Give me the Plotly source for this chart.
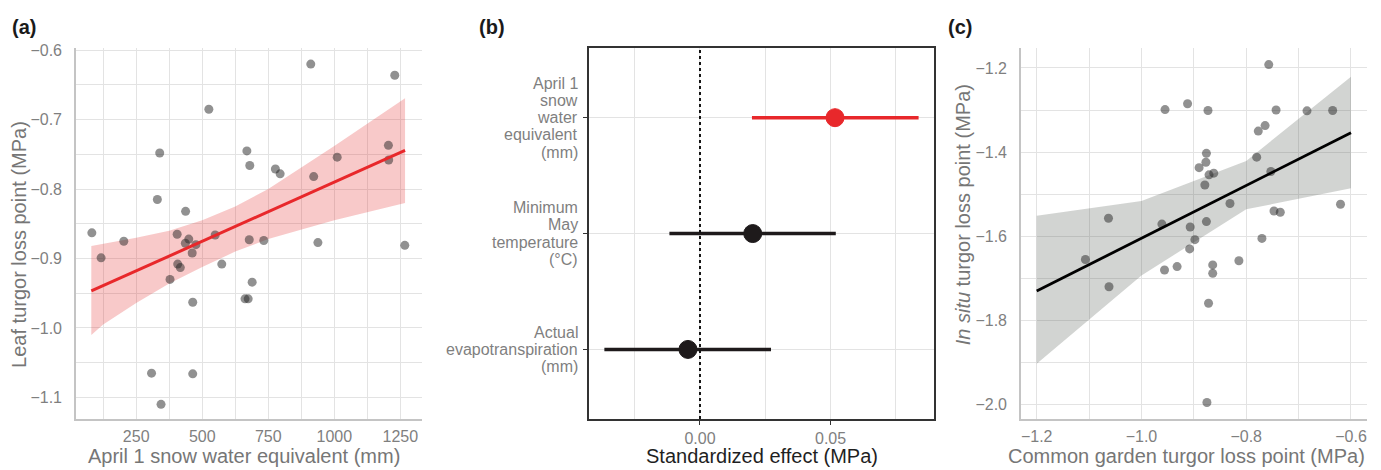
import plotly.graph_objects as go

# ---------------- Panel (a) data ----------------
swe_mm = [82, 117, 203, 308, 344, 339, 330, 405, 437, 525, 669, 680, 777, 795, 911, 922,
          1011, 1205, 1206, 1229, 1267, 938, 733, 678, 549, 574, 689, 662, 674, 464, 464,
          378, 407, 417, 449, 436, 462, 476]
leaf_tlp = [-0.863, -0.899, -0.875, -1.065, -1.110, -0.748, -0.815, -0.865, -0.832, -0.685,
            -0.745, -0.766, -0.771, -0.778, -0.620, -0.782, -0.754, -0.737, -0.758, -0.636,
            -0.881, -0.877, -0.874, -0.873, -0.866, -0.908, -0.934, -0.958, -0.958, -0.963,
            -1.066, -0.930, -0.908, -0.913, -0.872, -0.878, -0.892, -0.880]
fit_a_x = [80, 1268]
fit_a_y = [-0.9467, -0.7443]
band_a_x = [80, 125, 250, 375, 500, 625, 750, 1000, 1268]
band_a_hi = [-0.882, -0.879, -0.870, -0.860, -0.845, -0.825, -0.800, -0.738, -0.669]
band_a_lo = [-1.010, -0.995, -0.964, -0.936, -0.912, -0.890, -0.872, -0.845, -0.820]

# ---------------- Panel (b) data ----------------
predictors = ["swe", "tmin", "aet"]
predictor_lines = [["April 1", "snow", "water", "equivalent", "(mm)"],
                   ["Minimum", "May", "temperature", "(°C)"],
                   ["Actual", "evapotranspiration", "(mm)"]]
effect = [0.0517, 0.0202, -0.0046]
effect_lo = [0.0199, -0.0117, -0.0366]
effect_hi = [0.0837, 0.0520, 0.0272]
significant = [True, False, False]
ref_effect = 0.0

# ---------------- Panel (c) data ----------------
garden_tlp = [-0.757, -0.955, -0.912, -0.873, -0.743, -0.684, -0.635, -0.764, -0.777, -0.780,
              -0.876, -0.877, -0.890, -0.862, -0.871, -0.879, -0.753, -0.831, -0.620, -0.747,
              -0.735, -1.063, -0.961, -0.907, -0.876, -0.770, -0.898, -0.908, -1.107, -0.814,
              -1.062, -0.956, -0.932, -0.864, -0.864, -0.872, -0.875]
insitu_tlp = [-1.192, -1.299, -1.285, -1.301, -1.300, -1.302, -1.301, -1.337, -1.350, -1.412,
              -1.403, -1.424, -1.437, -1.450, -1.454, -1.478, -1.446, -1.522, -1.524, -1.540,
              -1.543, -1.557, -1.571, -1.578, -1.565, -1.605, -1.608, -1.630, -1.655, -1.658,
              -1.720, -1.680, -1.672, -1.668, -1.688, -1.759, -1.995]
fit_c_x = [-1.2, -1.0, -0.8, -0.6]
fit_c_y = [-1.730, -1.605, -1.480, -1.354]
band_c_hi = [-1.551, -1.516, -1.421, -1.221]
band_c_lo = [-1.903, -1.693, -1.536, -1.486]

# ---------------- styling ----------------
FONT = "Liberation Sans, Arial, Helvetica, sans-serif"
TICK_GRAY = "#7f7f7f"
TITLE_GRAY = "#767676"
GRID = "#e3e3e3"
AXLINE = "#c4c4c4"
RED = "#e8282b"
PT = "rgba(35,35,35,0.5)"
W, H = 1381, 470
LINE_H = 17.3  # px between stacked label lines in panel (b)

def px_x(p):
    return p / W

def px_y(p):
    return 1 - p / H

fig = go.Figure()

# Panel (a)
fig.add_trace(go.Scatter(x=band_a_x + band_a_x[::-1], y=band_a_hi + band_a_lo[::-1],
                         fill="toself", fillcolor="rgba(228,40,40,0.25)", line=dict(width=0),
                         mode="lines", hoverinfo="skip", showlegend=False, xaxis="x", yaxis="y"))
fig.add_trace(go.Scatter(x=swe_mm, y=leaf_tlp, mode="markers",
                         marker=dict(size=9, color=PT, line=dict(width=0)),
                         showlegend=False, xaxis="x", yaxis="y"))
fig.add_trace(go.Scatter(x=fit_a_x, y=fit_a_y, mode="lines", line=dict(color=RED, width=3),
                         showlegend=False, xaxis="x", yaxis="y"))

# Panel (b)
for i, p in enumerate(predictors):
    col = RED if significant[i] else "#1e1a1b"
    fig.add_trace(go.Scatter(x=[effect_lo[i], effect_hi[i]], y=[p, p], mode="lines",
                             line=dict(color=col, width=3.5), showlegend=False,
                             xaxis="x2", yaxis="y2"))
    fig.add_trace(go.Scatter(x=[effect[i]], y=[p], mode="markers",
                             marker=dict(size=18, color=col, line=dict(width=1, color=col)),
                             showlegend=False, xaxis="x2", yaxis="y2"))

fig.add_shape(type="line", xref="x2", yref="y2 domain", x0=ref_effect, x1=ref_effect,
              y0=0, y1=1, line=dict(color="#111111", width=2, dash="dot"), layer="above")

# Panel (c)
fig.add_trace(go.Scatter(x=fit_c_x + fit_c_x[::-1], y=band_c_hi + band_c_lo[::-1],
                         fill="toself", fillcolor="rgba(90,95,90,0.27)", line=dict(width=0),
                         mode="lines", hoverinfo="skip", showlegend=False, xaxis="x3", yaxis="y3"))
fig.add_trace(go.Scatter(x=garden_tlp, y=insitu_tlp, mode="markers",
                         marker=dict(size=9, color=PT, line=dict(width=0)),
                         showlegend=False, xaxis="x3", yaxis="y3"))
fig.add_trace(go.Scatter(x=fit_c_x, y=fit_c_y, mode="lines", line=dict(color="#000000", width=2.8),
                         showlegend=False, xaxis="x3", yaxis="y3"))

ydom = [px_y(418.3), px_y(42.7)]
tickfont = dict(family=FONT, size=16, color=TICK_GRAY)

def light_axis(**kw):
    d = dict(showline=True, linecolor=AXLINE, linewidth=1.6, mirror=False,
             showgrid=True, gridcolor=GRID, gridwidth=1.3, zeroline=False,
             ticks="", tickfont=tickfont, ticklabelstandoff=2)
    d.update(kw)
    return d

fig.update_layout(
    width=W, height=H, margin=dict(l=0, r=0, t=0, b=0),
    paper_bgcolor="white", plot_bgcolor="white",
    font=dict(family=FONT),
    xaxis=light_axis(domain=[px_x(76), px_x(421.7)], range=[22, 1331], tick0=0, dtick=250,
                     minor=dict(dtick=125, showgrid=True, gridcolor=GRID, gridwidth=1.1),
                     anchor="y"),
    yaxis=light_axis(domain=ydom, range=[-1.131, -0.597], tick0=0, dtick=0.1, tickformat=".1f",
                     minor=dict(dtick=0.05, showgrid=True, gridcolor=GRID, gridwidth=1.1),
                     anchor="x", ticklabelstandoff=9),
    xaxis2=dict(domain=[px_x(588.7), px_x(934)], range=[-0.0426, 0.0896], tick0=0, dtick=0.05,
                tickformat=".2f", showline=True, mirror=True, linecolor="#333333", linewidth=1.6,
                showgrid=True, gridcolor=GRID, gridwidth=1.3, zeroline=False,
                minor=dict(dtick=0.025, showgrid=True, gridcolor=GRID, gridwidth=1.1),
                ticks="outside", ticklen=4, tickwidth=1.4, tickcolor="#333333",
                tickfont=tickfont, ticklabelstandoff=0, anchor="y2"),
    yaxis2=dict(domain=ydom, type="category", categoryorder="array",
                categoryarray=predictors[::-1], range=[-0.6, 2.6],
                tickvals=predictors, ticktext=["", "", ""],
                showline=True, mirror=True, linecolor="#333333", linewidth=1.6,
                showgrid=True, gridcolor=GRID, gridwidth=1.3, zeroline=False,
                ticks="outside", ticklen=4, tickwidth=1.4, tickcolor="#333333",
                anchor="x2"),
    xaxis3=light_axis(domain=[px_x(1021), px_x(1366.7)], range=[-1.23, -0.570], tick0=0, dtick=0.2,
                      tickformat=".1f",
                      minor=dict(dtick=0.1, showgrid=True, gridcolor=GRID, gridwidth=1.1),
                      anchor="y3"),
    yaxis3=light_axis(domain=ydom, range=[-2.034, -1.153], tick0=0, dtick=0.2, tickformat=".1f",
                      minor=dict(dtick=0.1, showgrid=True, gridcolor=GRID, gridwidth=1.1),
                      anchor="x3", ticklabelstandoff=9),
)

ann = []
# panel (b) category labels, stacked line by line, right-aligned next to the axis
for p, lines in zip(predictors, predictor_lines):
    n = len(lines)
    for k, line in enumerate(lines):
        ann.append(dict(text=line, x=px_x(580), y=p, xref="paper", yref="y2",
                        xanchor="right", yanchor="middle", showarrow=False,
                        yshift=-(k - (n - 1) / 2) * LINE_H, font=tickfont))

for lab, xp in [("(a)", 10), ("(b)", 477), ("(c)", 946)]:
    ann.append(dict(text="<b>%s</b>" % lab, x=px_x(xp), y=px_y(21), xref="paper", yref="paper",
                    xanchor="left", yanchor="middle", showarrow=False,
                    font=dict(family=FONT, size=20, color="#1a1a1a")))
title_font = dict(family=FONT, size=20, color=TITLE_GRAY)
ann += [
    dict(text="April 1 snow water equivalent (mm)", x=px_x(244), y=px_y(456),
         xref="paper", yref="paper", xanchor="center", yanchor="middle", showarrow=False,
         font=title_font),
    dict(text="Standardized effect (MPa)", x=px_x(761.5), y=px_y(456),
         xref="paper", yref="paper", xanchor="center", yanchor="middle", showarrow=False,
         font=dict(family=FONT, size=20, color="#1f1f1f")),
    dict(text="Common garden turgor loss point (MPa)", x=px_x(1186), y=px_y(456),
         xref="paper", yref="paper", xanchor="center", yanchor="middle", showarrow=False,
         font=title_font),
    dict(text="Leaf turgor loss point (MPa)", x=px_x(19), y=px_y(242), textangle=-90,
         xref="paper", yref="paper", xanchor="center", yanchor="middle", showarrow=False,
         font=title_font),
    dict(text="<i>In situ</i> turgor loss point (MPa)", x=px_x(963), y=px_y(212), textangle=-90,
         xref="paper", yref="paper", xanchor="center", yanchor="middle", showarrow=False,
         font=title_font),
]
fig.update_layout(annotations=ann)

fig.write_html("out.html")
